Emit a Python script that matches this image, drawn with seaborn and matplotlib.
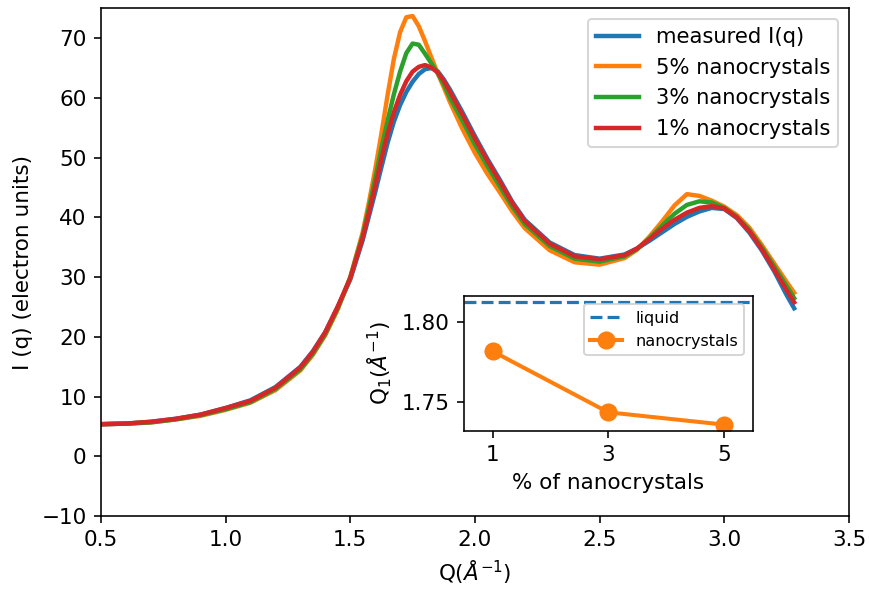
import numpy as np
import pandas as pd
import matplotlib
matplotlib.use("Agg")
import matplotlib.pyplot as plt
import seaborn as sns

# Scattering vector grid, Å^-1
q = [0.5, 0.6, 0.7, 0.8, 0.9, 1.0, 1.1, 1.2, 1.3, 1.35, 1.4, 1.45, 1.5, 1.55, 1.575,
     1.6, 1.625, 1.65, 1.675, 1.7, 1.725, 1.75, 1.775, 1.8, 1.825, 1.85, 1.875,
     1.9, 1.95, 2.0, 2.05, 2.1, 2.15, 2.2, 2.3, 2.4, 2.5, 2.6, 2.65, 2.7, 2.75,
     2.8, 2.85, 2.9, 2.95, 3.0, 3.05, 3.1, 3.15, 3.2, 3.25, 3.28]

measured = [5.4, 5.5, 5.8, 6.3, 7.0, 8.1, 9.4, 11.6, 15.0, 17.6, 20.8, 25.0, 29.6, 36.2, 40.2,
            44.2, 48.4, 52.5, 56.0, 58.8, 61.0, 62.7, 64.0, 64.8, 65.0, 64.5, 63.1,
            61.4, 57.6, 53.6, 49.8, 46.3, 42.6, 39.6, 35.8, 33.7, 33.1, 33.8, 34.8, 36.1, 37.5,
            38.9, 40.1, 41.0, 41.6, 41.4, 39.9, 37.5, 34.5, 31.0, 27.0, 24.8]

pct5 = [5.4, 5.5, 5.7, 6.2, 6.8, 7.8, 9.0, 11.1, 14.4, 17.0, 20.3, 24.6, 30.0, 37.5, 42.5,
        48.0, 54.0, 60.5, 66.5, 71.0, 73.5, 73.7, 72.0, 69.5, 66.8, 64.2, 61.8,
        59.3, 54.8, 50.8, 47.3, 44.2, 41.0, 38.2, 34.5, 32.5, 32.1, 33.2, 34.6, 36.8, 39.3,
        42.0, 43.9, 43.6, 42.8, 41.8, 40.4, 38.3, 35.4, 32.3, 29.2, 27.4]

pct3 = [5.4, 5.5, 5.7, 6.2, 6.9, 7.9, 9.1, 11.3, 14.6, 17.2, 20.5, 24.8, 29.9, 37.0, 41.6,
        46.5, 51.5, 56.2, 60.6, 64.4, 67.5, 69.1, 68.9, 67.4, 65.8, 64.2, 62.3,
        60.0, 56.2, 52.2, 48.6, 45.2, 41.8, 38.9, 35.2, 33.1, 32.6, 33.5, 34.7, 36.5, 38.6,
        40.6, 42.1, 42.7, 42.5, 41.6, 40.1, 37.9, 35.0, 31.8, 28.5, 26.5]

pct1 = [5.4, 5.5, 5.8, 6.3, 7.0, 8.1, 9.3, 11.5, 14.9, 17.5, 20.8, 25.1, 29.8, 36.6, 40.8,
        45.2, 49.8, 54.0, 57.6, 60.5, 62.8, 64.4, 65.2, 65.5, 65.1, 64.3, 62.9,
        61.0, 57.2, 53.2, 49.5, 46.0, 42.4, 39.4, 35.6, 33.5, 33.0, 33.7, 34.8, 36.4, 38.1,
        39.6, 40.8, 41.6, 41.9, 41.5, 40.0, 37.7, 34.7, 31.3, 27.8, 25.8]

series_labels = ["measured I(q)", "5% nanocrystals", "3% nanocrystals", "1% nanocrystals"]
series_colors = ["#1f77b4", "#ff7f0e", "#2ca02c", "#d62728"]

# First-peak position versus nanocrystal fraction
fraction = [1, 3, 5]
q1_nano = [1.7814, 1.7433, 1.7356]
q1_liquid = 1.8123

FS = 10.7

fig = plt.figure(figsize=(869 / 145, 592 / 145), dpi=145)
ax = fig.add_axes([0.116, 0.128, 0.861, 0.858])

for vals, lab, col in zip([measured, pct5, pct3, pct1], series_labels, series_colors):
    df = pd.DataFrame({"q": q, "I": vals})
    sns.lineplot(data=df, x="q", y="I", ax=ax, color=col, linewidth=2.2,
                 label=lab, sort=False)

ax.set_xlim(0.5, 3.5)
ax.set_ylim(-10, 75)
ax.set_xticks([0.5, 1.0, 1.5, 2.0, 2.5, 3.0, 3.5])
ax.set_yticks([-10, 0, 10, 20, 30, 40, 50, 60, 70])
ax.set_xlabel(r"Q($\AA^{-1}$)", fontsize=FS)
ax.set_ylabel("I (q) (electron units)", fontsize=FS)
ax.tick_params(labelsize=FS)
leg = ax.legend(loc="upper right", fontsize=10.5)
for ln in leg.get_lines():
    ln.set_linewidth(2.2)

# Inset: Q1 shift
axi = fig.add_axes([0.534, 0.2725, 0.332, 0.2275])
axi.axhline(q1_liquid, ls="--", color="#1f77b4", linewidth=1.6, label="liquid")
dfi = pd.DataFrame({"frac": fraction, "q1": q1_nano})
sns.lineplot(data=dfi, x="frac", y="q1", ax=axi, color="#ff7f0e", linewidth=2.0,
             marker="o", markersize=9, markeredgewidth=0, label="nanocrystals")
axi.set_xlim(0.5, 5.5)
axi.set_ylim(1.7318, 1.8161)
axi.set_xticks(fraction)
axi.set_yticks([1.75, 1.80])
axi.set_yticklabels(["1.75", "1.80"])
axi.tick_params(labelsize=FS)
axi.set_xlabel("% of nanocrystals", fontsize=FS)
axi.set_ylabel(r"Q$_1$($\AA^{-1}$)", fontsize=FS)
axi.legend(loc="upper right", fontsize=8)

fig.savefig("out.png", dpi=145)
